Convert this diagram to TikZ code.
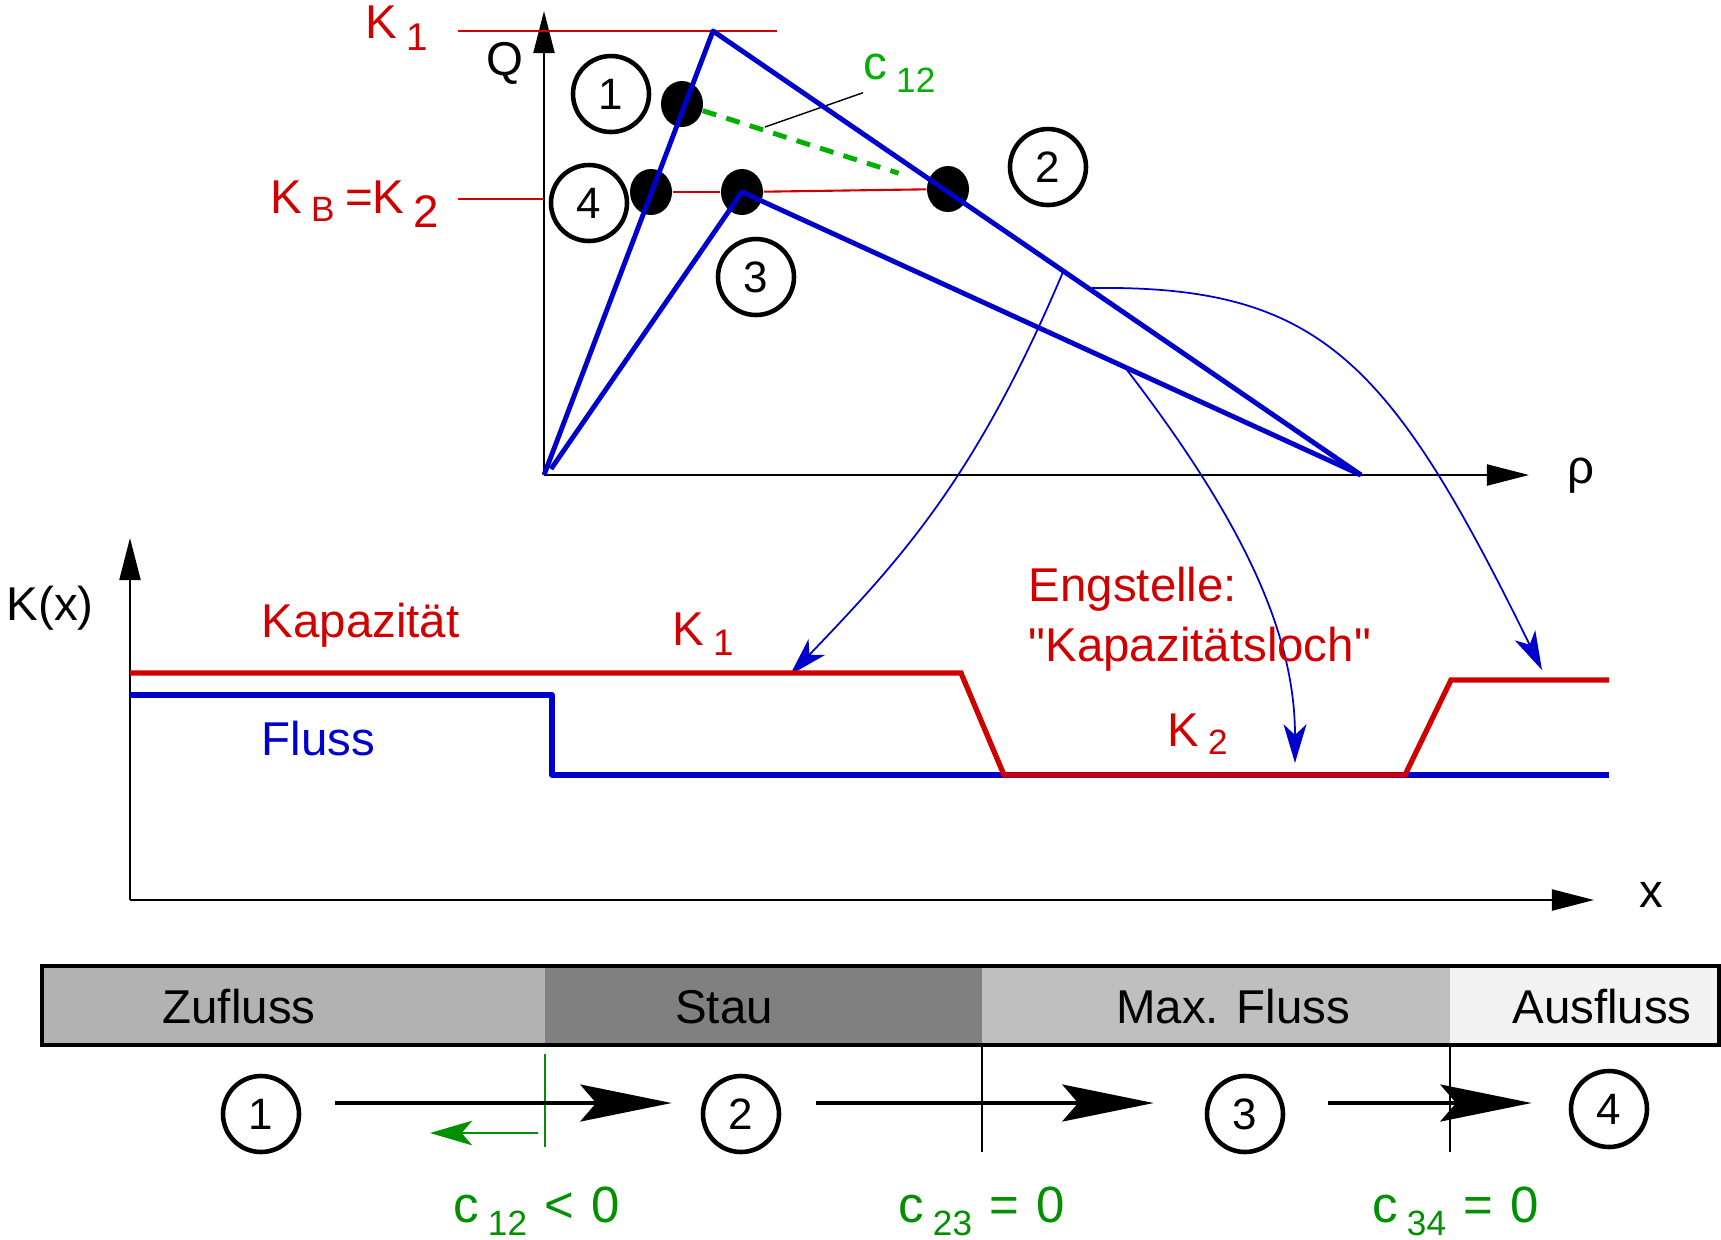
\documentclass[tikz,border=0pt]{standalone}
\usepackage{fontspec}
\setmainfont{Liberation Sans}
\newfontfamily\plainquote{Liberation Sans}
\usetikzlibrary{arrows.meta,shapes.geometric,calc}

\definecolor{kred}{RGB}{208,0,0}
\definecolor{kblue}{RGB}{0,0,204}
\definecolor{kgreen}{RGB}{0,144,0}
\definecolor{kgreenlt}{RGB}{0,176,0}
\definecolor{cZu}{gray}{0.70}
\definecolor{cStau}{gray}{0.50}
\definecolor{cMax}{gray}{0.75}
\definecolor{cAus}{gray}{0.95}

\newcommand{\lab}{\fontsize{13.5}{16}\selectfont}
\newcommand{\biglab}{\fontsize{14.5}{17}\selectfont}
\newcommand{\numfont}{\fontsize{12.5}{14}\selectfont}
% subscript: size, drop, text
\newcommand{\subx}[3]{\hspace{2.5pt}\raisebox{-#2}{\fontsize{#1}{12}\selectfont #3}}
\newcommand{\sub}[1]{\subx{10}{2.5pt}{#1}}

\begin{document}
\begin{tikzpicture}[
    x=0.1mm, y=-0.1mm,
    lbl/.style={inner sep=0pt, anchor=base west, font=\lab},
    num/.style={draw, circle, line width=1.3pt, minimum size=7.6mm, inner sep=0pt, font=\numfont},
    dot/.style={ellipse, fill=black, minimum width=4.2mm, minimum height=4.6mm, inner sep=0pt},
    axis/.style={-{Triangle[length=12pt, width=6pt]}, line width=0.6pt},
    fd/.style={kblue, line width=1.4pt, line join=round},
    kapline/.style={kred, line width=1.5pt},
    level/.style={kred, line width=0.6pt},
    mapto/.style={-{Stealth[length=11pt, width=6.5pt, inset=3pt]}, kblue, line width=0.5pt},
    trans/.style={-{Stealth[length=26pt, width=10.5pt, inset=4.5pt]}, line width=1.3pt},
]
\useasboundingbox (0,0) rectangle (1721,1239);

% fundamental diagram Q(rho)
\coordinate (o) at (544,475);
\coordinate (qtop) at (544,11);
\coordinate (rend) at (1529,475);
\draw[axis] (o) -- (qtop);
\draw[axis] (o) -- (rend);
\node[lbl, anchor=base] (q) at (505,75) {Q};
\node[lbl] (rho) at (1567,483) {ρ};

\node[lbl, text=kred] (k1top) at (365,38) {K\subx{11}{3.5pt}{1}};
\node[lbl, text=kred] (kb) at (270,213) {K\sub{B}\hspace{3pt}=K\subx{13}{4pt}{2}};
\coordinate (k1a) at (458,31);
\coordinate (k1b) at (777,31);
\coordinate (kba) at (458,199);
\draw[level] (k1a) -- (k1b);
\draw[level] (kba) -- (kba -| o);

\node[dot] (d1) at (682,104) {};
\node[dot] (d2) at (948,189) {};
\node[dot] (d3) at (742,192) {};
\node[dot] (d4) at (651,192) {};
\draw[level] (d4) -- (d3);
\draw[level] (d3) -- (d2);
\draw[kgreenlt, line width=1.4pt, dash pattern=on 4pt off 3pt, shorten >=3mm] (d1) -- (d2);

\node[lbl, text=kgreenlt] (c12) at (863,79) {c\subx{10}{3.7pt}{12}};
\coordinate (lead) at (765,127);
\draw[line width=0.4pt] (c12.south west) -- (lead);

\coordinate (p1) at (713,31);
\coordinate (jam) at (1361,475);
\coordinate (o2) at (551,469);
\draw[fd] (o) -- (p1) -- (jam);
\draw[fd] (o2) -- (d3.center) -- (jam);

\node[num] (n1) at (611,94) {1};
\node[num] (n2) at (1048,167) {2};
\node[num] (n3) at (756,277) {3};
\node[num] (n4) at (589,203) {4};

% mapping of the branches onto the road
\coordinate (a0) at (1063,272);
\coordinate (b0) at (1127,370);
\coordinate (c0) at (1092,288);
\coordinate (a1) at (790,675);
\coordinate (b1) at (1295,763);
\coordinate (c1) at (1542,670);
\draw[mapto] (a0) .. controls (975,480) and (900,560) .. (a1);
\draw[mapto] (b0) .. controls (1250,530) and (1295,640) .. (b1);
\draw[mapto] (c0) .. controls (1320,285) and (1390,360) .. (c1);

% capacity along the road
\coordinate (ko) at (130,900);
\coordinate (ktop) at (130,538);
\coordinate (xend) at (1594,900);
\draw[axis] (ko) -- (ktop);
\draw[axis] (ko) -- (xend);
\node[lbl] (kx) at (6,620) {K(x)};
\node[lbl] (xl) at (1639,907) {x};

\draw[fd, line width=1.5pt] (130,695) -| (552,775) -- (1609,775);
\draw[kapline] (130,673) -- (961,673) -- (1004,775) -- (1405,775) -- (1451,680) -- (1609,680);

\node[lbl, text=kred] (kap) at (261,637) {Kapazität};
\node[lbl, text=kblue] (fl) at (261,755) {Fluss};
\node[lbl, text=kred] (k1mid) at (672,645) {K\subx{10.5}{3pt}{1}};
\node[lbl, text=kred] (k2mid) at (1167,746) {K\sub{2}};
\node[lbl, text=kred] (eng) at (1028,601) {Engstelle:};
\node[lbl, text=kred] (loch) at (1028,661) {\plainquote "Kapazitätsloch"};

% states
\fill[cZu] (42,966) rectangle (545,1045);
\fill[cStau] (545,966) rectangle (982,1045);
\fill[cMax] (982,966) rectangle (1450,1045);
\fill[cAus] (1450,966) rectangle (1719,1045);
\draw[line width=1.4pt] (42,966) rectangle (1719,1045);
\node[lbl, anchor=base] (zu) at (239,1023) {Zufluss};
\node[lbl, anchor=base] (stau) at (724,1023) {Stau};
\node[lbl, anchor=base] (max) at (1233,1023) {Max. Fluss};
\node[lbl, anchor=base] (aus) at (1602,1023) {Ausfluss};

\draw[line width=0.35pt] (982,1045) -- (982,1152);
\draw[line width=0.35pt] (1450,1045) -- (1450,1152);
\draw[kgreen, line width=0.8pt] (545,1054) -- (545,1147);

\node[num] (m1) at (261,1114) {1};
\node[num] (m2) at (741,1114) {2};
\node[num] (m3) at (1245,1114) {3};
\node[num] (m4) at (1609,1109) {4};
\draw[trans, shorten <=3.4mm, shorten >=2.9mm] ([yshift=1.1mm]m1.east) -- ([yshift=1.1mm]m2.west);
\draw[trans, shorten <=3.5mm, shorten >=5.1mm] ([yshift=1.1mm]m2.east) -- ([yshift=1.1mm]m3.west);
\draw[trans, shorten <=4.3mm, shorten >=3.7mm] ([yshift=1.1mm]m3.east) -- ([yshift=1.1mm]m3.east -| m4.west);

\coordinate (ga) at (538,1133);
\coordinate (gb) at (430,1133);
\draw[kgreen, -{Stealth[length=12pt, width=7pt, inset=3pt]}, line width=0.5pt] (ga) -- (gb);

\node[lbl, font=\biglab, text=kgreen] (c12b) at (453,1222) {c\subx{10}{3.7pt}{12}\hspace{5pt}<\hspace{5pt}0};
\node[lbl, font=\biglab, text=kgreen] (c23) at (898,1222) {c\subx{10}{3.7pt}{23}\hspace{5pt}=\hspace{5pt}0};
\node[lbl, font=\biglab, text=kgreen] (c34) at (1372,1222) {c\subx{10}{3.7pt}{34}\hspace{5pt}=\hspace{5pt}0};
\end{tikzpicture}
\end{document}
